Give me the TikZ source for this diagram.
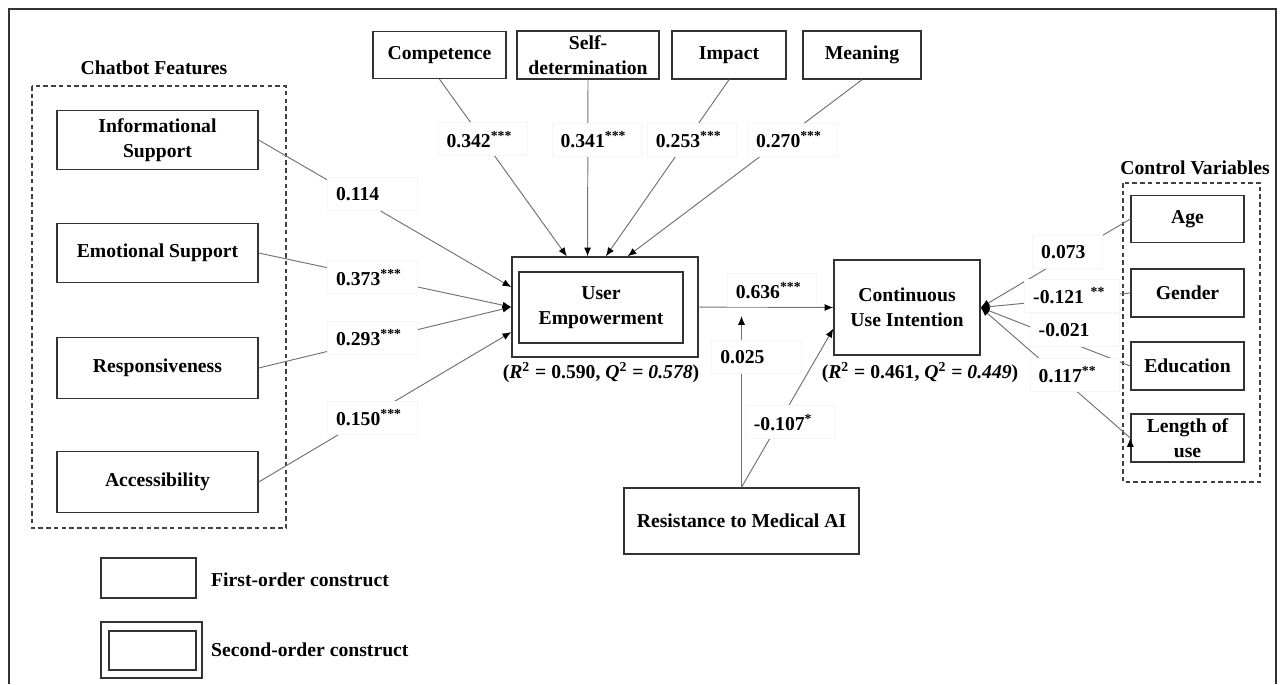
\documentclass[tikz,border=0pt]{standalone}
\usepackage{fontspec}
\setmainfont{Liberation Serif}
\usepackage{tikz}
\usetikzlibrary{arrows,arrows.meta,shapes}

\begin{document}
\begin{tikzpicture}[x=0.02cm,y=-0.02cm,
	font=\fontsize{11.2}{14}\selectfont\bfseries,
	box/.style={draw=black!80,line width=0.8pt,align=center,inner sep=1pt},
	coef/.style={fill=white,draw=black!4,text width=1.45cm,align=left,inner xsep=0.17cm,inner ysep=2pt,minimum height=0.66cm},
	grp/.style={draw=black!75,line width=0.7pt,dash pattern=on 2.6pt off 1.8pt}]
		\useasboundingbox (0,0) rectangle (1283,684);
		\draw[black!80,line width=0.8pt] (9,684) -- (9,9) -- (1276,9) -- (1276,684);
		%
		\node (CFt) at (154,68) {Chatbot Features};
		\draw[grp] (32,86) rectangle (286,528);
		\node[box,minimum width=4.02cm,minimum height=1.18cm] (Info) at (157.5,140) {Informational\\Support};
		\node[box,minimum width=4.02cm,minimum height=1.18cm] (Emo) at (157.5,253) {Emotional Support};
		\node[box,minimum width=4.02cm,minimum height=1.22cm] (Resp) at (157.5,368) {Responsiveness};
		\node[box,minimum width=4.02cm,minimum height=1.22cm] (Acc) at (157.5,482) {Accessibility};
		%
		\node[box,minimum width=2.66cm,minimum height=0.94cm] (Comp) at (439.5,55) {Competence};
		\node[box,minimum width=2.84cm,minimum height=0.96cm] (Self) at (588,55) {Self-\\determination};
		\node[box,minimum width=2.28cm,minimum height=0.96cm] (Imp) at (729,55) {Impact};
		\node[box,minimum width=2.36cm,minimum height=0.96cm] (Mean) at (862,55) {Meaning};
		%
		\node[box,minimum width=3.72cm,minimum height=2.0cm] (UE) at (605,307) {};
		\node[box,minimum width=3.28cm,minimum height=1.42cm] (UEin) at (601,307.5) {User\\Empowerment};
		\node (UEr) at (601,373) {(\textit{R}\textsuperscript{2} = 0.590, \textit{Q}\textsuperscript{2} = \textit{0.578})};
		%
		\node[box,minimum width=2.92cm,minimum height=1.9cm] (CUI) at (907,307.5) {Continuous\\Use Intention};
		\node (CUIr) at (920,373) {(\textit{R}\textsuperscript{2} = 0.461, \textit{Q}\textsuperscript{2} = \textit{0.449})};
		%
		\node[box,minimum width=4.7cm,minimum height=1.32cm] (Res) at (741.5,521) {Resistance to Medical AI};
		\coordinate (mod) at (741.5,316);
		%
		\node (CVt) at (1195,168) {Control Variables};
		\draw[grp] (1123,183) rectangle (1260,482);
		\node[box,minimum width=2.26cm,minimum height=0.94cm] (Age) at (1187.5,219) {Age};
		\node[box,minimum width=2.26cm,minimum height=0.96cm] (Gen) at (1187.5,293) {Gender};
		\node[box,minimum width=2.26cm,minimum height=0.96cm] (Edu) at (1187.5,366) {Education};
		\node[box,minimum width=2.26cm,minimum height=0.96cm] (Len) at (1187.5,438) {Length of\\use};
		%
		\node[box,minimum width=1.9cm,minimum height=0.8cm] (LgA) at (148.5,578) {};
		\node[anchor=west] (LgAt) at (205,580) {First-order construct};
		\node[box,minimum width=2.02cm,minimum height=1.12cm] (LgB) at (151.5,650) {};
		\node[box,minimum width=1.74cm,minimum height=0.78cm] (LgBin) at (152.5,650.5) {};
		\node[anchor=west] (LgBt) at (205,650) {Second-order construct};
		%
		\path[->,>={Latex[length=5pt,width=4pt,color=black]},draw=black!55,line width=0.55pt]
		(Comp.south) edge node[coef,pos=0.34]{0.342\textsuperscript{***}} (UE.127)
		(Self.south) edge node[coef,pos=0.34,xshift=0.18cm]{0.341\textsuperscript{***}} (UE.109)
		(Imp.south) edge node[coef,pos=0.34,xshift=0.1cm]{0.253\textsuperscript{***}} (UE.89)
		(Mean.south) edge node[coef,pos=0.34,xshift=0.2cm]{0.270\textsuperscript{***}} (UE.66)
		(Info.east) edge node[coef,pos=0.45,yshift=6.8pt]{0.114} (UE.168)
		(Emo.east) edge node[coef,pos=0.45]{0.373\textsuperscript{***}} (UE.west)
		(Resp.east) edge node[coef,pos=0.45,yshift=1.7pt]{0.293\textsuperscript{***}} (UE.west)
		(Acc.east) edge node[coef,pos=0.45,yshift=-2pt]{0.150\textsuperscript{***}} (UE.195)
		(UE.east) edge node[coef,above,pos=0.5,xshift=0.12cm]{0.636\textsuperscript{***}} (CUI.west)
		(Res.north) edge node[coef,pos=0.76,xshift=0.3cm]{0.025} (mod)
		(Res.north) edge node[coef,pos=0.41,xshift=0.22cm]{-0.107\textsuperscript{*}} (CUI.196)
		(Age.west) edge node[coef,text width=1.05cm,pos=0.42,yshift=2.3pt]{0.073} (CUI.east)
		(Gen.west) edge node[coef,text width=1.55cm,pos=0.39,yshift=1.7pt]{-0.121 \textsuperscript{**}} (CUI.east)
		(Edu.west) edge node[coef,pos=0.37,yshift=8pt]{-0.021} (CUI.east)
		(Len.west) edge node[coef,pos=0.37,yshift=8.5pt]{0.117\textsuperscript{**}} (CUI.east);
\end{tikzpicture}
\end{document}
